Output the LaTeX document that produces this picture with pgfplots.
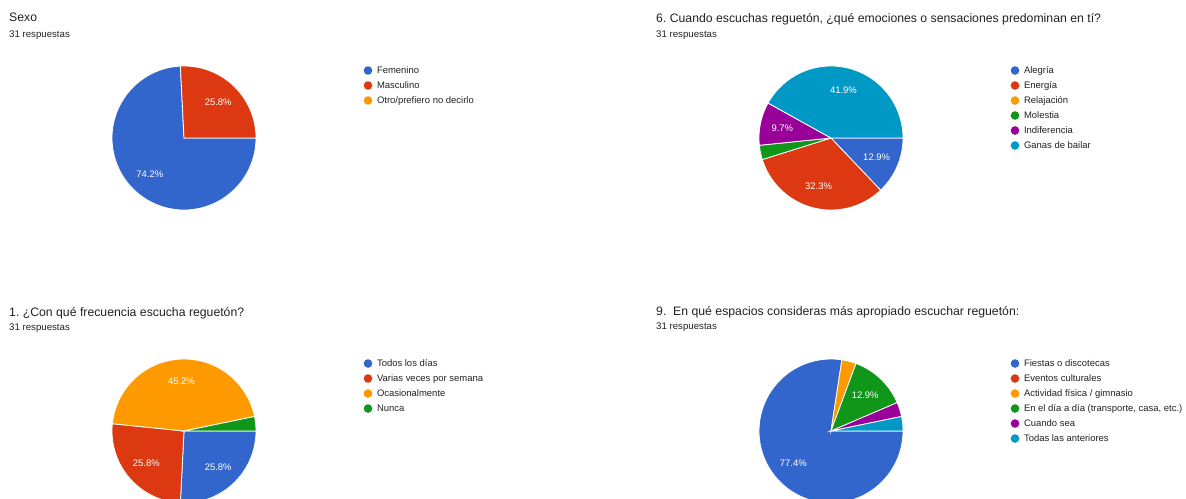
\documentclass[border=0pt]{standalone}
\usepackage{fontspec}
\setmainfont{Liberation Sans}
\usepackage{pgfplots}
\pgfplotsset{compat=1.18}
\frenchspacing

\definecolor{gblue}{HTML}{3366CC}
\definecolor{gred}{HTML}{DC3912}
\definecolor{gorange}{HTML}{FF9900}
\definecolor{ggreen}{HTML}{109618}
\definecolor{gpurple}{HTML}{990099}
\definecolor{gcyan}{HTML}{0099C6}
\definecolor{ttl}{HTML}{202124}
\definecolor{lgd}{HTML}{222222}

% 31 answers in every question
\newcommand{\ntot}{31}
% slice: answers before it, answers in it, colour (clockwise from 3 o'clock)
\newcommand{\slice}[3]{%
  \addplot[fill=#3, draw=white, line width=0.8pt, data cs=polar, forget plot,
    domain={-(#1+#2)*360/\ntot}:{-(#1)*360/\ntot}, samples=90]
    ({x},{1}) -- (axis cs:0,0) -- cycle;}
% percentage label in the middle of a slice
\newcommand{\plabel}[3]{%
  \node[text=white, inner sep=0pt, font=\fontsize{9.5}{11}\selectfont]
    at (axis cs:{0.69*cos(-(#1+#2/2)*360/\ntot)},{0.69*sin(-(#1+#2/2)*360/\ntot)}) {#3};}

\pgfplotsset{
  pie/.style={
    width=144bp, height=144bp, scale only axis, hide axis,
    xmin=-1, xmax=1, ymin=-1, ymax=1, clip=false, anchor=center,
    legend cell align=left,
    legend image code/.code={\fill[##1, draw=none] (0bp,0bp) circle (4.3bp);},
    legend style={draw=none, fill=none, inner sep=0pt, outer sep=0pt,
      anchor=north west, at={(1.748,1)}, row sep=6bp,
      font=\fontsize{9.5}{11}\selectfont, text=lgd,
      nodes={inner sep=0pt, text height=7bp, text depth=2bp},
      /tikz/every odd column/.append style={column sep=4.7bp}},
  },
}
\tikzset{
  qtitle/.style={anchor=base west, inner sep=0pt, text=ttl, font=\fontsize{12.3}{14}\selectfont},
  qsub/.style={anchor=base west, inner sep=0pt, text=ttl, font=\fontsize{9.7}{11}\selectfont},
}

\begin{document}
\begin{tikzpicture}
\path[use as bounding box] (0,0) rectangle (1186bp,-499bp);
\clip (0,0) rectangle (1186bp,-499bp);

% ---- Sexo
\node[qtitle] at (9bp,-21.5bp) {Sexo};
\node[qsub] at (9bp,-37.3bp) {31 respuestas};
\begin{axis}[pie, at={(184bp,-138bp)}]
\slice{0}{23}{gblue}
\slice{23}{8}{gred}
\plabel{0}{23}{74.2\%}
\plabel{23}{8}{25.8\%}
\addlegendimage{fill=gblue}\addlegendentry{Femenino}
\addlegendimage{fill=gred}\addlegendentry{Masculino}
\addlegendimage{fill=gorange}\addlegendentry{Otro/prefiero no decirlo}
\end{axis}

% ---- 6. emociones
\node[qtitle] at (656bp,-22bp) {6. Cuando escuchas reguetón, ¿qué emociones o sensaciones predominan en tí?};
\node[qsub] at (656bp,-37.3bp) {31 respuestas};
\begin{axis}[pie, at={(831bp,-138bp)}]
\slice{0}{4}{gblue}
\slice{4}{10}{gred}
\slice{14}{1}{ggreen}
\slice{15}{3}{gpurple}
\slice{18}{13}{gcyan}
\plabel{0}{4}{12.9\%}
\plabel{4}{10}{32.3\%}
\plabel{15}{3}{9.7\%}
\plabel{18}{13}{41.9\%}
\addlegendimage{fill=gblue}\addlegendentry{Alegría}
\addlegendimage{fill=gred}\addlegendentry{Energía}
\addlegendimage{fill=gorange}\addlegendentry{Relajación}
\addlegendimage{fill=ggreen}\addlegendentry{Molestia}
\addlegendimage{fill=gpurple}\addlegendentry{Indiferencia}
\addlegendimage{fill=gcyan}\addlegendentry{Ganas de bailar}
\end{axis}

% ---- 1. frecuencia
\node[qtitle] at (9bp,-316bp) {1. ¿Con qué frecuencia escucha reguetón?};
\node[qsub] at (9bp,-330.7bp) {31 respuestas};
\begin{axis}[pie, at={(184bp,-431bp)}]
\slice{0}{8}{gblue}
\slice{8}{8}{gred}
\slice{16}{14}{gorange}
\slice{30}{1}{ggreen}
\plabel{0}{8}{25.8\%}
\plabel{8}{8}{25.8\%}
\plabel{16}{14}{45.2\%}
\addlegendimage{fill=gblue}\addlegendentry{Todos los días}
\addlegendimage{fill=gred}\addlegendentry{Varias veces por semana}
\addlegendimage{fill=gorange}\addlegendentry{Ocasionalmente}
\addlegendimage{fill=ggreen}\addlegendentry{Nunca}
\end{axis}

% ---- 9. espacios
\node[qtitle] at (656bp,-315bp) {9.\ \ En qué espacios consideras más apropiado escuchar reguetón:};
\node[qsub] at (656bp,-329.5bp) {31 respuestas};
\begin{axis}[pie, at={(831bp,-431bp)}]
\slice{0}{24}{gblue}
\slice{24}{1}{gorange}
\slice{25}{4}{ggreen}
\slice{29}{1}{gpurple}
\slice{30}{1}{gcyan}
\plabel{0}{24}{77.4\%}
\plabel{25}{4}{12.9\%}
\addlegendimage{fill=gblue}\addlegendentry{Fiestas o discotecas}
\addlegendimage{fill=gred}\addlegendentry{Eventos culturales}
\addlegendimage{fill=gorange}\addlegendentry{Actividad física / gimnasio}
\addlegendimage{fill=ggreen}\addlegendentry{En el día a día (transporte, casa, etc.)}
\addlegendimage{fill=gpurple}\addlegendentry{Cuando sea}
\addlegendimage{fill=gcyan}\addlegendentry{Todas las anteriores}
\end{axis}
\end{tikzpicture}
\end{document}
